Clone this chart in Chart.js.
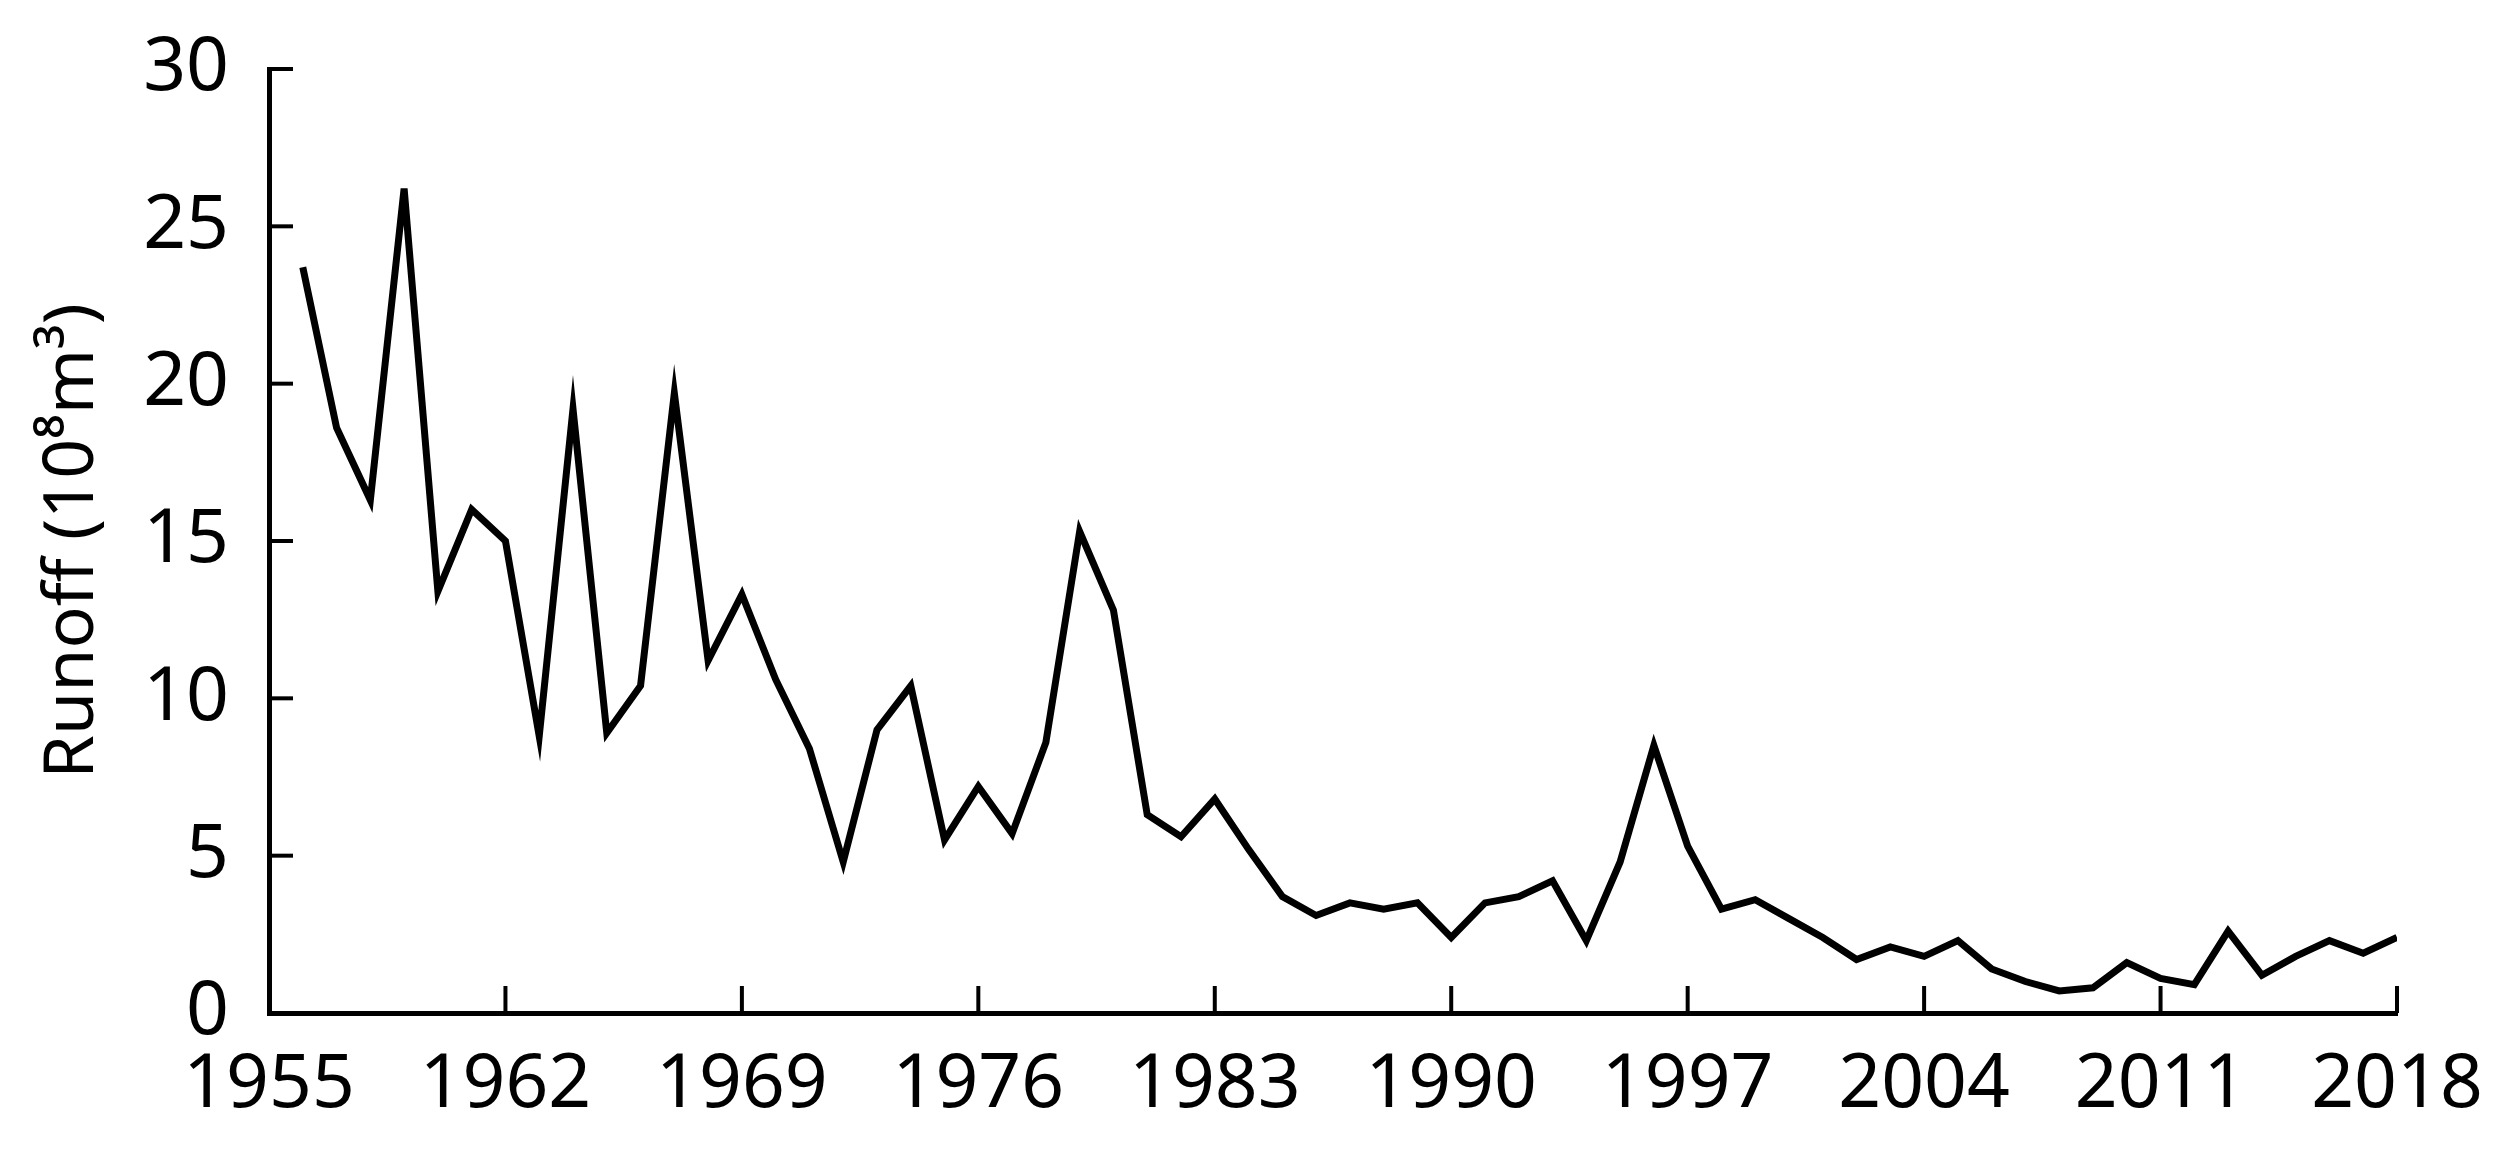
<!DOCTYPE html>
<html>
<head>
<meta charset="utf-8">
<script src="https://cdn.jsdelivr.net/npm/chart.js@4"></script>
<style>
  html, body { margin: 0; padding: 0; background: #fff; }
  #wrap { width: 2506px; height: 1150px; }
</style>
</head>
<body>
<div id="wrap"><canvas id="runoffChart" width="2506" height="1150"></canvas></div>
<script>
// --- data ---
const years = [
  1956, 1957, 1958, 1959, 1960, 1961, 1962, 1963, 1964, 1965,
  1966, 1967, 1968, 1969, 1970, 1971, 1972, 1973, 1974, 1975,
  1976, 1977, 1978, 1979, 1980, 1981, 1982, 1983, 1984, 1985,
  1986, 1987, 1988, 1989, 1990, 1991, 1992, 1993, 1994, 1995,
  1996, 1997, 1998, 1999, 2000, 2001, 2002, 2003, 2004, 2005,
  2006, 2007, 2008, 2009, 2010, 2011, 2012, 2013, 2014, 2015,
  2016, 2017, 2018
];
const runoff = [
  23.7, 18.6, 16.3, 26.2, 13.4, 16.0, 15.0, 8.8, 19.2, 8.9,
  10.4, 19.7, 11.2, 13.3, 10.6, 8.4, 4.8, 9.0, 10.4, 5.5,
  7.2, 5.7, 8.6, 15.3, 12.8, 6.3, 5.6, 6.8, 5.2, 3.7,
  3.1, 3.5, 3.3, 3.5, 2.4, 3.5, 3.7, 4.2, 2.3, 4.8,
  8.5, 5.3, 3.3, 3.6, 3.0, 2.4, 1.7, 2.1, 1.8, 2.3,
  1.4, 1.0, 0.7, 0.8, 1.6, 1.1, 0.9, 2.6, 1.2, 1.8,
  2.3, 1.9, 2.4
];
const xTicks = [1955, 1962, 1969, 1976, 1983, 1990, 1997, 2004, 2011, 2018];
const yTicks = [0, 5, 10, 15, 20, 25, 30];

const fontFamily = '"Noto Sans", "Open Sans", sans-serif';
// narrower face, closer to the figure's lettering
const fontWeight = '400 semi-condensed';

// ticks in the figure point into the plot area
const innerTicks = {
    id: 'innerTicks',
    afterDatasetsDraw(chart) {
        const ctx = chart.ctx;
        const xs = chart.scales.x, ys = chart.scales.y;
        const area = chart.chartArea;
        ctx.save();
        ctx.strokeStyle = '#000';
        ctx.lineWidth = 4;
        ctx.lineCap = 'butt';
        yTicks.forEach(v => {
            if (v === 0) return;
            const py = ys.getPixelForValue(v);
            ctx.beginPath();
            ctx.moveTo(area.left, py);
            ctx.lineTo(area.left + 24, py);
            ctx.stroke();
        });
        xTicks.forEach(v => {
            if (v === xTicks[0]) return;
            const px = xs.getPixelForValue(v);
            ctx.beginPath();
            ctx.moveTo(px, area.bottom);
            ctx.lineTo(px, area.bottom - 27);
            ctx.stroke();
        });
        ctx.restore();
    }
};

new Chart(document.getElementById('runoffChart'), {
    type: 'line',
    data: {
        datasets: [{
            label: 'Runoff',
            data: years.map((y, i) => ({ x: y, y: runoff[i] })),
            borderColor: '#000',
            borderWidth: 7,
            pointRadius: 0,
            tension: 0,
            fill: false,
            borderJoinStyle: 'miter'
        }]
    },
    options: {
        responsive: false,
        animation: false,
        layout: { padding: { top: 69, right: 109, left: 0, bottom: 0 } },
        plugins: { legend: { display: false }, tooltip: { enabled: false } },
        scales: {
            x: {
                type: 'linear',
                min: 1955, max: 2018,
                afterBuildTicks: s => { s.ticks = xTicks.map(v => ({ value: v })); },
                afterFit: s => { s.height = 137; s.paddingLeft = 0; s.paddingRight = 0; },
                grid: { display: false, drawTicks: false },
                border: { display: true, color: '#000', width: 5 },
                ticks: {
                    color: '#000',
                    padding: 28,
                    maxRotation: 0,
                    autoSkip: false,
                    font: { family: fontFamily, size: 75, weight: fontWeight },
                    callback: v => String(v)
                }
            },
            y: {
                min: 0, max: 30,
                afterBuildTicks: s => { s.ticks = yTicks.map(v => ({ value: v })); },
                afterFit: s => { s.width = 269; s.paddingTop = 0; s.paddingBottom = 0; },
                grid: { display: false, drawTicks: false },
                border: { display: true, color: '#000', width: 5 },
                ticks: {
                    color: '#000',
                    padding: 40,
                    font: { family: fontFamily, size: 75, weight: fontWeight },
                    callback: v => String(v)
                },
                title: {
                    display: true,
                    text: 'Runoff (10⁸m³)',
                    color: '#000',
                    padding: { top: 31, bottom: 0 },
                    font: { family: fontFamily, size: 70, weight: fontWeight }
                }
            }
        }
    },
    plugins: [innerTicks]
});
</script>
</body>
</html>
